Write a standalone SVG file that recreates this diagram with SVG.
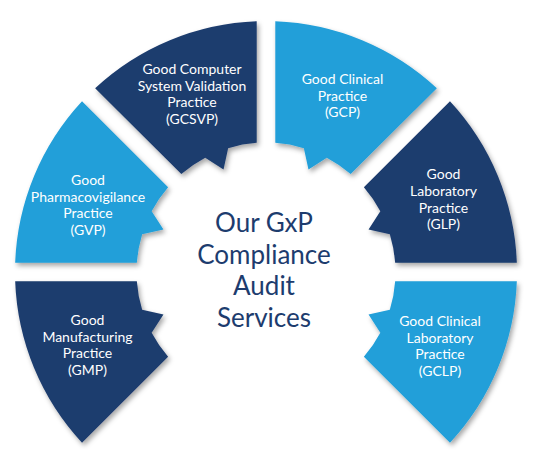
<svg xmlns="http://www.w3.org/2000/svg" width="540" height="469" viewBox="0 0 540 469">
  <defs>
    <filter id="sh" x="-20%" y="-20%" width="140%" height="140%">
      <feDropShadow dx="2" dy="3" stdDeviation="2.5" flood-color="#000" flood-opacity="0.35"/>
    </filter>
  </defs>
  <style>
    .dark { fill: #1d3c6e; filter: url(#sh); }
    .light { fill: #219fd9; filter: url(#sh); }
    .lbl { font-family: Lato, "Open Sans", sans-serif; font-size: 14px; font-weight: 400; fill: #ffffff; text-anchor: middle; }
    .ctr { font-family: Lato, "Open Sans", sans-serif; font-size: 26px; font-weight: 400; fill: #1d3c6e; text-anchor: middle; }
  </style>
  <rect width="540" height="469" fill="#ffffff"/>

  <g id="gcsvp">
    <path class="dark" d="M256.71,21.17 A251,251 0 0 0 95.14,88.14 L181.31,174.03 A129.5,129.5 0 0 1 205.20,157.66 L223.52,169.45 L228.14,148.16 A129.5,129.5 0 0 1 256.70,142.83 Z"/>
    <text class="lbl"><tspan x="192" y="74">Good Computer</tspan><tspan x="192" y="90.7">System Validation</tspan><tspan x="192" y="107.3">Practice</tspan><tspan x="192" y="124">(GCSVP)</tspan></text>
  </g>

  <g id="gcp">
    <path class="light" d="M275.29,21.17 A251,251 0 0 1 436.86,88.14 L350.69,174.03 A129.5,129.5 0 0 0 326.80,157.66 L308.48,169.45 L303.86,148.16 A129.5,129.5 0 0 0 275.30,142.83 Z"/>
    <text class="lbl"><tspan x="342.5" y="84">Good Clinical</tspan><tspan x="342.5" y="100.7">Practice</tspan><tspan x="342.5" y="117.3">(GCP)</tspan></text>
  </g>

  <g id="glp">
    <path class="dark" d="M449.98,101.27 A251,251 0 0 1 516.83,262.72 L395.17,262.70 A129.5,129.5 0 0 0 389.84,234.14 L368.55,229.52 L380.34,211.20 A129.5,129.5 0 0 0 363.88,187.21 Z"/>
    <text class="lbl"><tspan x="443.5" y="179.3">Good</tspan><tspan x="443.5" y="196">Laboratory</tspan><tspan x="443.5" y="212.7">Practice</tspan><tspan x="443.5" y="229.3">(GLP)</tspan></text>
  </g>

  <g id="gclp">
    <path class="light" d="M516.83,281.28 A251,251 0 0 1 449.98,442.73 L363.88,356.79 A129.5,129.5 0 0 0 380.34,332.80 L368.55,314.48 L389.84,309.86 A129.5,129.5 0 0 0 395.17,281.30 Z"/>
    <text class="lbl"><tspan x="440" y="326">Good Clinical</tspan><tspan x="440" y="342.7">Laboratory</tspan><tspan x="440" y="359.3">Practice</tspan><tspan x="440" y="376">(GCLP)</tspan></text>
  </g>

  <g id="gmp">
    <path class="dark" d="M15.17,281.28 A251,251 0 0 0 82.02,442.73 L168.12,356.79 A129.5,129.5 0 0 1 151.66,332.80 L163.45,314.48 L142.16,309.86 A129.5,129.5 0 0 1 136.83,281.30 Z"/>
    <text class="lbl"><tspan x="87.5" y="325">Good</tspan><tspan x="87.5" y="341.7">Manufacturing</tspan><tspan x="87.5" y="358.3">Practice</tspan><tspan x="87.5" y="375">(GMP)</tspan></text>
  </g>

  <g id="gvp">
    <path class="light" d="M82.02,101.27 A251,251 0 0 0 15.17,262.72 L136.83,262.70 A129.5,129.5 0 0 1 142.16,234.14 L163.45,229.52 L151.66,211.20 A129.5,129.5 0 0 1 168.12,187.21 Z"/>
    <text class="lbl"><tspan x="88" y="185">Good</tspan><tspan x="88" y="201.5">Pharmacovigilance</tspan><tspan x="88" y="218">Practice</tspan><tspan x="88" y="234.5">(GVP)</tspan></text>
  </g>

  <g id="center">
    <text class="ctr"><tspan x="264" y="232">Our GxP</tspan><tspan x="264" y="263.5">Compliance</tspan><tspan x="264" y="295">Audit</tspan><tspan x="264" y="326.5">Services</tspan></text>
  </g>

  <g id="connectors"/>
</svg>
